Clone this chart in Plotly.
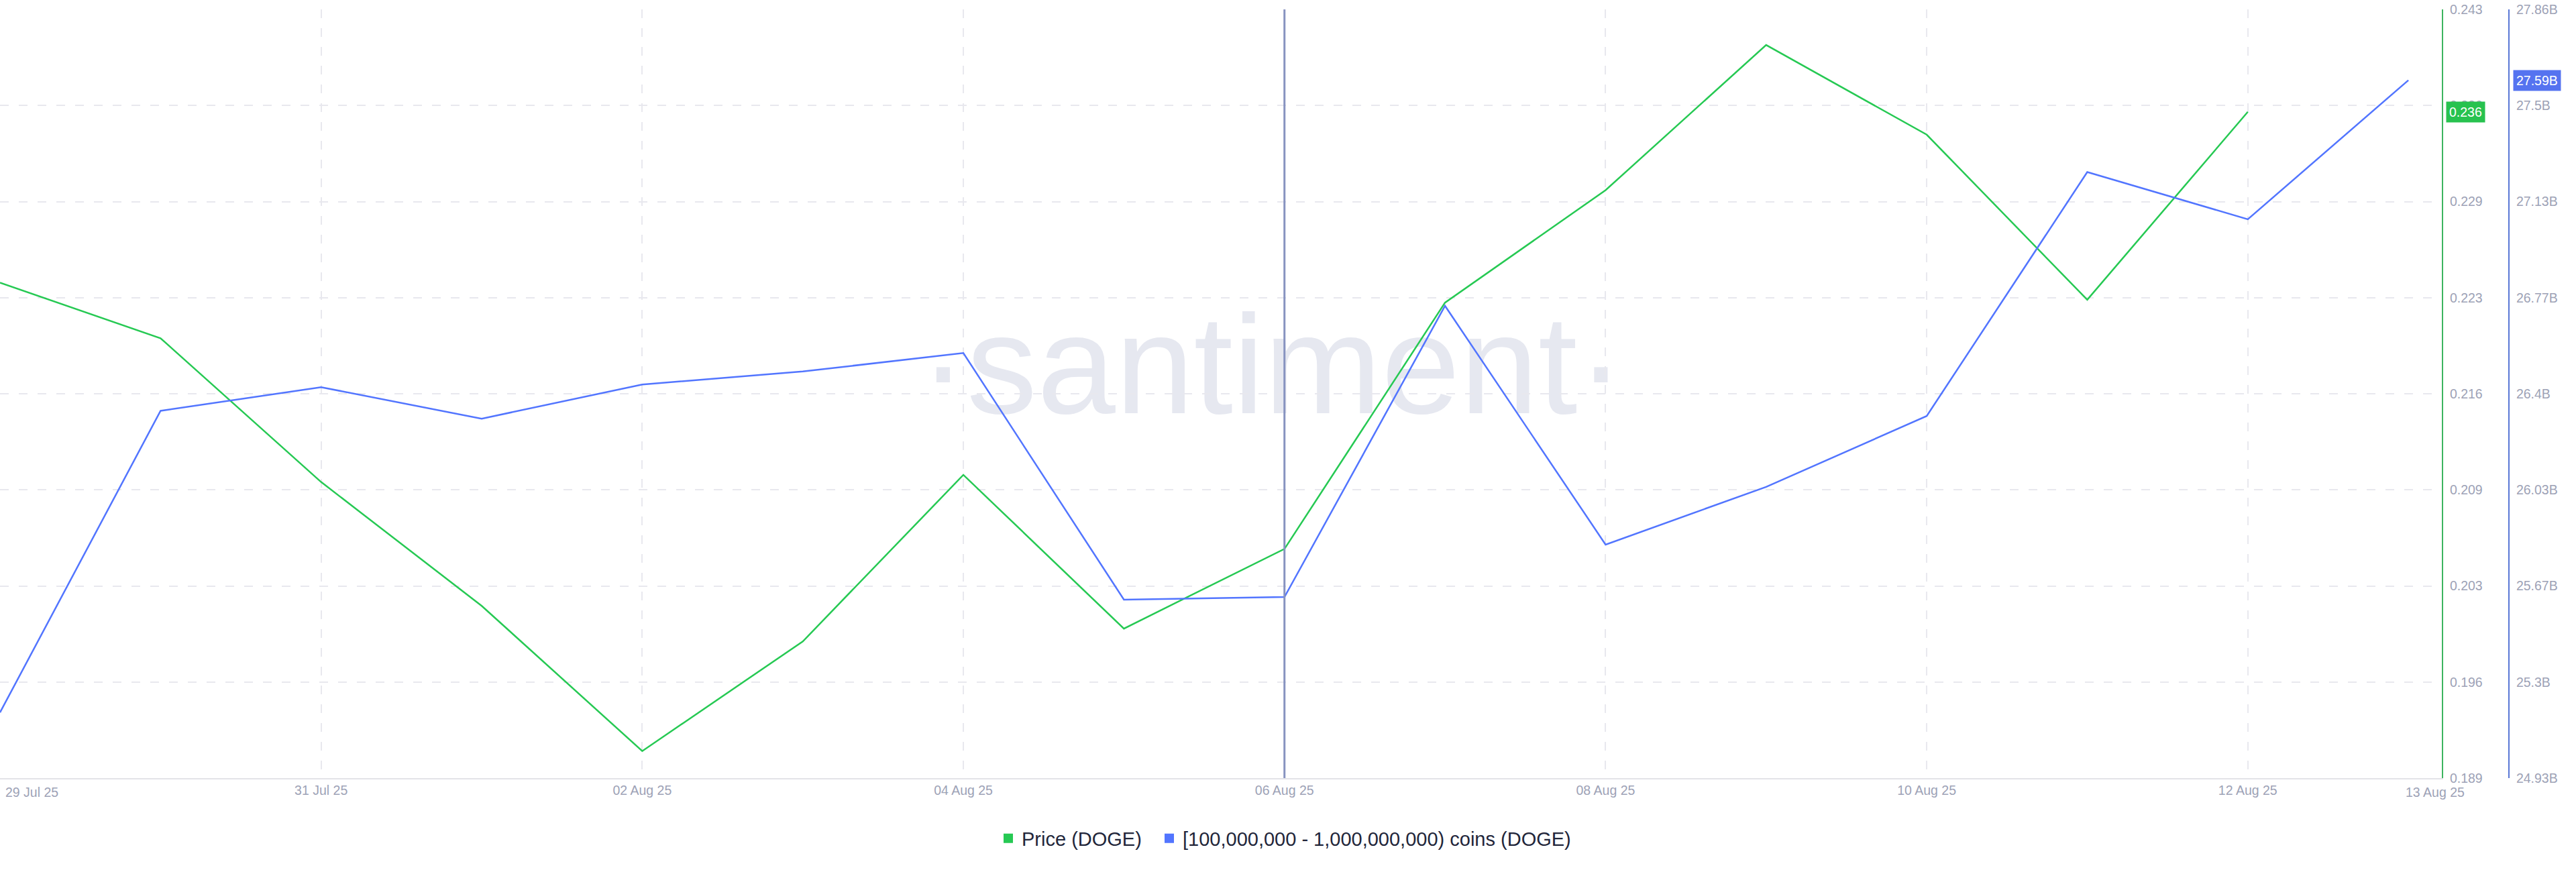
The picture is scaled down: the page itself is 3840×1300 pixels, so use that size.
import numpy as np
import plotly.graph_objects as go

# ---------------- data ----------------
dates = ["2025-07-29", "2025-07-30", "2025-07-31", "2025-08-01", "2025-08-02",
         "2025-08-03", "2025-08-04", "2025-08-05", "2025-08-06", "2025-08-07",
         "2025-08-08", "2025-08-09", "2025-08-10", "2025-08-11", "2025-08-12",
         "2025-08-13"]
price_doge = [0.2238, 0.2199, 0.2098, 0.2011, 0.1909, 0.1986, 0.2103, 0.1995,
              0.2051, 0.2224, 0.2303, 0.2405, 0.2342, 0.2226, 0.2358]
holdings_b = [25.18, 26.33, 26.42, 26.30, 26.43, 26.48, 26.55, 25.61, 25.62,
              26.73, 25.82, 26.04, 26.31, 27.24, 27.06, 27.59]

price_name = "Price (DOGE)"
holdings_name = "[100,000,000 - 1,000,000,000) coins (DOGE)"

price_range = [0.189, 0.243]
price_tick_labels = ["0.189", "0.196", "0.203", "0.209", "0.216", "0.223",
                     "0.229", "0.236", "0.243"]
holdings_range = [24.93, 27.86]
holdings_tick_labels = ["24.93B", "25.3B", "25.67B", "26.03B", "26.4B",
                        "26.77B", "27.13B", "27.5B", "27.86B"]

x_tick_dates = ["2025-07-29", "2025-07-31", "2025-08-02", "2025-08-04",
                "2025-08-06", "2025-08-08", "2025-08-10", "2025-08-12"]
x_tick_labels = ["", "31 Jul 25", "02 Aug 25", "04 Aug 25", "06 Aug 25",
                 "08 Aug 25", "10 Aug 25", "12 Aug 25"]
first_label = "29 Jul 25"
last_label = "13 Aug 25"
x_range = ["2025-07-29", "2025-08-13 05:00"]
event_date = "2025-08-06"

# ---------------- styles ----------------
GREEN = "#26c953"
GREEN_AXIS = "#3db55f"
BLUE = "#5275ff"
BLUE_AXIS = "#5a77d6"
TICK = "#9da2b6"
GRID = "#e8e8ee"
FONT = "Liberation Sans, Arial, sans-serif"

W, H = 3840, 1300
ML, MR, MT, MB = 0, 100, 14, 140
plot_right = 3640
paper_w = W - ML - MR
paper_h = H - MT - MB
x_dom_end = plot_right / paper_w

fig = go.Figure()

fig.add_trace(go.Scatter(x=dates[:len(price_doge)], y=price_doge, mode="lines",
                         line=dict(color=GREEN, width=2.5), name=price_name,
                         showlegend=False, yaxis="y"))
fig.add_trace(go.Scatter(x=dates, y=holdings_b, mode="lines",
                         line=dict(color=BLUE, width=2.5), name=holdings_name,
                         showlegend=False, yaxis="y2"))
# legend entries (square swatches)
fig.add_trace(go.Scatter(x=[None], y=[None], mode="markers", name=price_name,
                         legendwidth=195,
                         marker=dict(symbol="square", size=14, color=GREEN)))
fig.add_trace(go.Scatter(x=[None], y=[None], mode="markers", name=holdings_name,
                         marker=dict(symbol="square", size=14, color=BLUE)))

price_ticks = list(np.linspace(price_range[0], price_range[1], len(price_tick_labels)))
hold_ticks = list(np.linspace(holdings_range[0], holdings_range[1], len(holdings_tick_labels)))

fig.update_layout(
    width=W, height=H,
    margin=dict(l=ML, r=MR, t=MT, b=MB),
    paper_bgcolor="white", plot_bgcolor="white",
    font=dict(family=FONT, size=19.5, color=TICK),
    xaxis=dict(
        domain=[0, x_dom_end], type="date", range=x_range,
        tickmode="array", tickvals=x_tick_dates, ticktext=x_tick_labels,
        showgrid=True, gridcolor=GRID, griddash="13px,15px", gridwidth=2,
        showline=True, linecolor="#e3e3e8", linewidth=2,
        ticks="", tickfont=dict(size=19.5, color=TICK), zeroline=False,
    ),
    yaxis=dict(
        side="right", anchor="x", range=price_range,
        tickmode="array", tickvals=price_ticks, ticktext=price_tick_labels,
        showgrid=True, gridcolor=GRID, griddash="13px,15px", gridwidth=2,
        showline=True, linecolor=GREEN_AXIS, linewidth=2,
        ticks="outside", ticklen=6, tickcolor="rgba(0,0,0,0)",
        tickfont=dict(size=19.5, color=TICK), zeroline=False,
    ),
    yaxis2=dict(
        overlaying="y", side="right", anchor="free", position=1.0,
        range=holdings_range,
        tickmode="array", tickvals=hold_ticks, ticktext=holdings_tick_labels,
        showgrid=False, showline=True, linecolor=BLUE_AXIS, linewidth=2,
        ticks="outside", ticklen=6, tickcolor="rgba(0,0,0,0)",
        tickfont=dict(size=19.5, color=TICK), zeroline=False,
    ),
    legend=dict(
        orientation="h", x=1483 / paper_w, xanchor="left",
        y=-90 / paper_h, yanchor="middle",
        font=dict(size=29, color="#22263a", family=FONT),
        bgcolor="rgba(0,0,0,0)",
    ),
    showlegend=True,
)

# watermark
fig.add_shape(type="rect", xref="paper", yref="paper",
              x0=0.35, x1=0.664, y0=0.455, y1=0.655,
              line=dict(width=0), fillcolor="rgba(0,0,0,0)", layer="below",
              label=dict(text="·santiment·", textposition="middle center",
                         font=dict(size=210, color="#e6e8f0", family=FONT)))

# event marker line
fig.add_shape(type="line", xref="x", yref="paper", x0=event_date, x1=event_date,
              y0=0, y1=1, line=dict(color="#8793c0", width=3), layer="above")

# first / last x labels
fig.add_annotation(x=dates[0], xref="x", y=0, yref="paper", yanchor="top",
                   xanchor="left", xshift=6, yshift=-8, text=first_label,
                   showarrow=False, font=dict(size=19.5, color=TICK))
fig.add_annotation(x=dates[-1], xref="x", y=0, yref="paper", yanchor="top",
                   xanchor="center", xshift=40, yshift=-8, text=last_label,
                   showarrow=False, font=dict(size=19.5, color=TICK))

# last value badges
fig.add_annotation(x=x_dom_end, xref="paper", y=price_doge[-1], yref="y",
                   xanchor="left", xshift=6, text=f"{price_doge[-1]:.3f}",
                   showarrow=False, bgcolor="#27c24f", borderpad=4,
                   font=dict(size=19.5, color="white"))
fig.add_annotation(x=1.0, xref="paper", y=holdings_b[-1], yref="y2",
                   xanchor="left", xshift=6, text=f"{holdings_b[-1]:.2f}B",
                   showarrow=False, bgcolor="#5573f0", borderpad=4,
                   font=dict(size=19.5, color="white"))

fig.write_html("out.html",
               config={"displayModeBar": False},
               post_script="document.body.style.margin='0';document.body.style.overflow='hidden';")
